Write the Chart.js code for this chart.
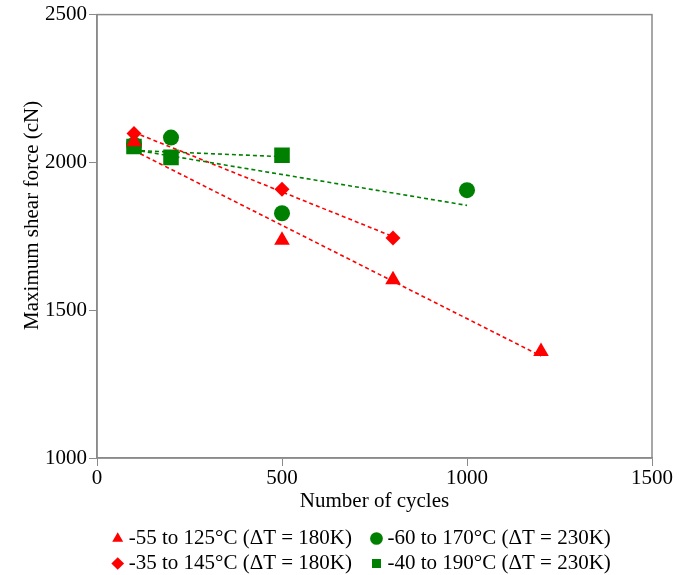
<!DOCTYPE html>
<html><head><meta charset="utf-8">
<script src="https://cdn.jsdelivr.net/npm/chart.js@4.4.1/dist/chart.umd.min.js"></script>
<style>html,body{margin:0;padding:0;background:#fff}#wrap{width:688px;height:575px}</style>
</head><body><div id="wrap"><canvas id="c" width="688" height="575"></canvas></div>
<script>
const seriesLabels = ['-55 to 125°C (ΔT = 180K)', '-60 to 170°C (ΔT = 230K)', '-35 to 145°C (ΔT = 180K)', '-40 to 190°C (ΔT = 230K)'];
const triCycles = [100, 500, 800, 1200];
const triForce = [2070, 1737, 1603, 1360];
const cirCycles = [100, 200, 500, 1000];
const cirForce = [2060, 2084, 1828, 1906];
const diaCycles = [100, 500, 800];
const diaForce = [2098, 1909, 1744];
const sqCycles = [100, 200, 500];
const sqForce = [2054, 2017, 2024];
const xTicks = [0, 500, 1000, 1500];
const yTicks = [1000, 1500, 2000, 2500];

const RED = '#ff0000', GREEN = '#008000', AXIS = '#8a8a8a';
function pts(xs, ys){ return xs.map((x,i)=>({x:x, y:ys[i]})); }
function trend(xs, ys){
  const n = xs.length, mx = xs.reduce((a,b)=>a+b,0)/n, my = ys.reduce((a,b)=>a+b,0)/n;
  let sxy=0, sxx=0; xs.forEach((x,i)=>{sxy+=(x-mx)*(ys[i]-my); sxx+=(x-mx)*(x-mx);});
  const b = sxy/sxx, a = my - b*mx;
  const x0 = Math.min(...xs), x1 = Math.max(...xs);
  return [{x:x0, y:a+b*x0}, {x:x1, y:a+b*x1}];
}
function markerDs(label, xs, ys, color, style, r){
  return {type:'scatter', label, data:pts(xs,ys), backgroundColor:color, borderColor:color, pointStyle:style, pointRadius:r, pointHoverRadius:r, borderWidth:0, order:1};
}
function trendDs(xs, ys, color){
  return {type:'line', label:'trend', data:trend(xs,ys), borderColor:color, borderWidth:1.6, borderDash:[4,3], pointRadius:0, fill:false, order:2};
}
const frame = {id:'frame', afterDraw(chart){
  const {ctx, chartArea:a} = chart; ctx.save(); ctx.strokeStyle=AXIS; ctx.lineWidth=1.5;
  ctx.strokeRect(a.left, a.top, a.right-a.left, a.bottom-a.top); ctx.restore(); }};
const legendWrap = {id:'legendWrap',
  beforeLayout(chart){
    const lg = chart.legend;
    if (lg && !lg._wrapped){
      const orig = lg.update;
      lg.update = function(w, h, m){ orig.call(this, Math.min(w, 560), h, m); this.height = 51; };
      lg._wrapped = true;
    }
  },
  afterLayout(chart){ const lg = chart.legend; if (lg){ lg.left += 36; lg.right += 36; } }
};
const FAM = '"Liberation Serif", "Times New Roman", serif';
const font = {family:FAM, size:21};
new Chart(document.getElementById('c'), {
  data:{datasets:[
    markerDs(seriesLabels[0], triCycles, triForce, RED, 'triangle', 9),
    markerDs(seriesLabels[1], cirCycles, cirForce, GREEN, 'circle', 8),
    markerDs(seriesLabels[2], diaCycles, diaForce, RED, 'rectRot', 7.5),
    markerDs(seriesLabels[3], sqCycles, sqForce, GREEN, 'rect', 11),
    trendDs(triCycles, triForce, RED),
    trendDs(cirCycles, cirForce, GREEN),
    trendDs(diaCycles, diaForce, RED),
    trendDs(sqCycles, sqForce, GREEN)
  ]},
  options:{responsive:false, animation:false, devicePixelRatio:1,
    layout:{padding:{left:4, right:36, top:13, bottom:0}},
    plugins:{tooltip:{enabled:false},
      legend:{position:'bottom', labels:{
        filter:(it)=>it.text!=='trend', usePointStyle:true, boxWidth:1, boxHeight:9, padding:4, color:'#000', font:{family:FAM, size:21},
        generateLabels:(chart)=>{
          const items = Chart.defaults.plugins.legend.labels.generateLabels(chart);
          items.forEach(it=>{ if (it.datasetIndex===0 || it.datasetIndex===2) it.text = it.text + '   \u2009'; });
          return items;
        }}}},
    scales:{
      x:{type:'linear', min:0, max:1500, afterBuildTicks:(s)=>{s.ticks=xTicks.map(v=>({value:v}));},
        afterFit:(s)=>{s.height=66;},
        grid:{drawOnChartArea:false, color:AXIS, tickLength:8}, border:{color:AXIS, width:1.5},
        ticks:{color:'#000', font, padding:0, callback:(v)=>String(v)},
        title:{display:true, text:'Number of cycles', color:'#000', font, padding:{top:0,bottom:10}}},
      y:{type:'linear', min:1000, max:2500, afterBuildTicks:(s)=>{s.ticks=yTicks.map(v=>({value:v}));},
        afterFit:(s)=>{s.width=93;},
        grid:{drawOnChartArea:false, color:AXIS, tickLength:8}, border:{color:AXIS, width:1.5},
        ticks:{color:'#000', font, padding:2, callback:(v)=>String(v)},
        title:{display:true, text:'        Maximum shear force (cN)', color:'#000', font, padding:{top:16,bottom:0}}}
    }},
  plugins:[frame, legendWrap]
});
</script></body></html>
